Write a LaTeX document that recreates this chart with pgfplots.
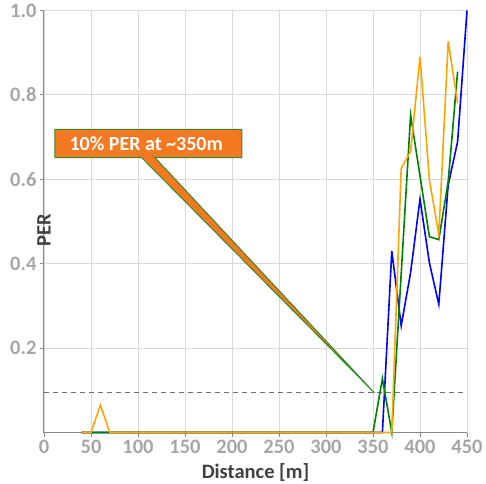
\documentclass[border=0pt]{standalone}
\usepackage{fontspec}
\setmainfont{Carlito}
\usepackage{pgfplots}
\pgfplotsset{compat=1.18}
\usetikzlibrary{calc}
\definecolor{tickgray}{RGB}{166,166,166}
\definecolor{gridgray}{RGB}{217,217,217}
\definecolor{axisgray}{RGB}{134,134,134}
\definecolor{labelgray}{RGB}{64,64,64}
\definecolor{dashgray}{RGB}{110,110,110}
\definecolor{calloutorange}{RGB}{244,121,32}
\definecolor{calloutgreen}{RGB}{50,140,40}
\definecolor{serorange}{RGB}{255,165,0}
\definecolor{sergreen}{RGB}{0,128,0}
\definecolor{serblue}{RGB}{0,0,255}
\begin{document}
\begin{tikzpicture}
\begin{axis}[
  name=ax,
  scale only axis, width=423pt, height=422pt,
  xmin=0, xmax=450, ymin=0, ymax=1,
  xtick={0,50,100,150,200,250,300,350,400,450},
  ytick={0.2,0.4,0.6,0.8,1.0},
  yticklabel style={/pgf/number format/fixed, /pgf/number format/fixed zerofill, /pgf/number format/precision=1},
  /pgf/number format/assume math mode=true,
  grid=major, major grid style={gridgray, line width=0.8pt},
  axis x line*=bottom, axis y line*=left,
  axis line style={-, axisgray, line width=1pt},
  tick align=outside, major tick length=4pt,
  tick style={axisgray, line width=0.8pt},
  ticklabel style={font=\fontsize{20.5}{22}\selectfont\bfseries, text=tickgray},
  xlabel={Distance [m]}, ylabel={PER},
  xlabel style={font=\fontsize{20.5}{22}\selectfont\bfseries, text=labelgray, at={(axis description cs:0.5,0)}, anchor=base, yshift=-45.5pt},
  ylabel style={font=\fontsize{20.5}{22}\selectfont\bfseries, text=labelgray, at={(axis description cs:0,0.508)}, anchor=center, xshift=-12.5pt},
  clip=false,
]
\addplot[dashgray, dash pattern=on 5pt off 4pt, line width=0.9pt] coordinates {(0,0.094) (450,0.094)};
\addplot[serblue, line width=1.6pt] coordinates {
(40,0) (50,0) (60,0) (70,0) (100,0) (200,0) (300,0) (350,0) (360,0)
(370,0.43) (380,0.253) (390,0.379) (400,0.553) (410,0.402) (420,0.304) (430,0.587) (440,0.689) (450,1.0)};
\addplot[sergreen, line width=1.6pt] coordinates {
(40,0) (50,0) (60,0) (70,0) (100,0) (200,0) (300,0) (350,0) (360,0.128) (370,0)
(390,0.752) (410,0.464) (420,0.457) (430,0.595) (440,0.855)};
\addplot[serorange, line width=1.6pt] coordinates {
(40,0) (50,0) (60,0.065) (70,0) (100,0) (200,0) (300,0) (350,0) (360,0) (370,0)
(380,0.626) (390,0.666) (400,0.89) (410,0.599) (420,0.469) (430,0.927) (440,0.781)};
\draw[fill=calloutorange, draw=calloutgreen, line width=1pt, line join=miter]
  (axis cs:11.5,0.7185) -- (axis cs:210.6,0.7185) -- (axis cs:210.6,0.6515)
  -- (axis cs:118,0.6515) -- (axis cs:351.5,0.094) -- (axis cs:103.8,0.6515)
  -- (axis cs:11.5,0.6515) -- cycle;
\node[text=white, font=\fontsize{20}{22}\selectfont\bfseries, anchor=center] at (axis cs:108.7,0.685) {10\% PER at \textasciitilde350m};
\end{axis}
\pgfresetboundingbox
\path ($(ax.south west)+(-44pt,-51pt)$) rectangle ($(ax.north east)+(19pt,10.5pt)$);
\end{tikzpicture}
\end{document}
